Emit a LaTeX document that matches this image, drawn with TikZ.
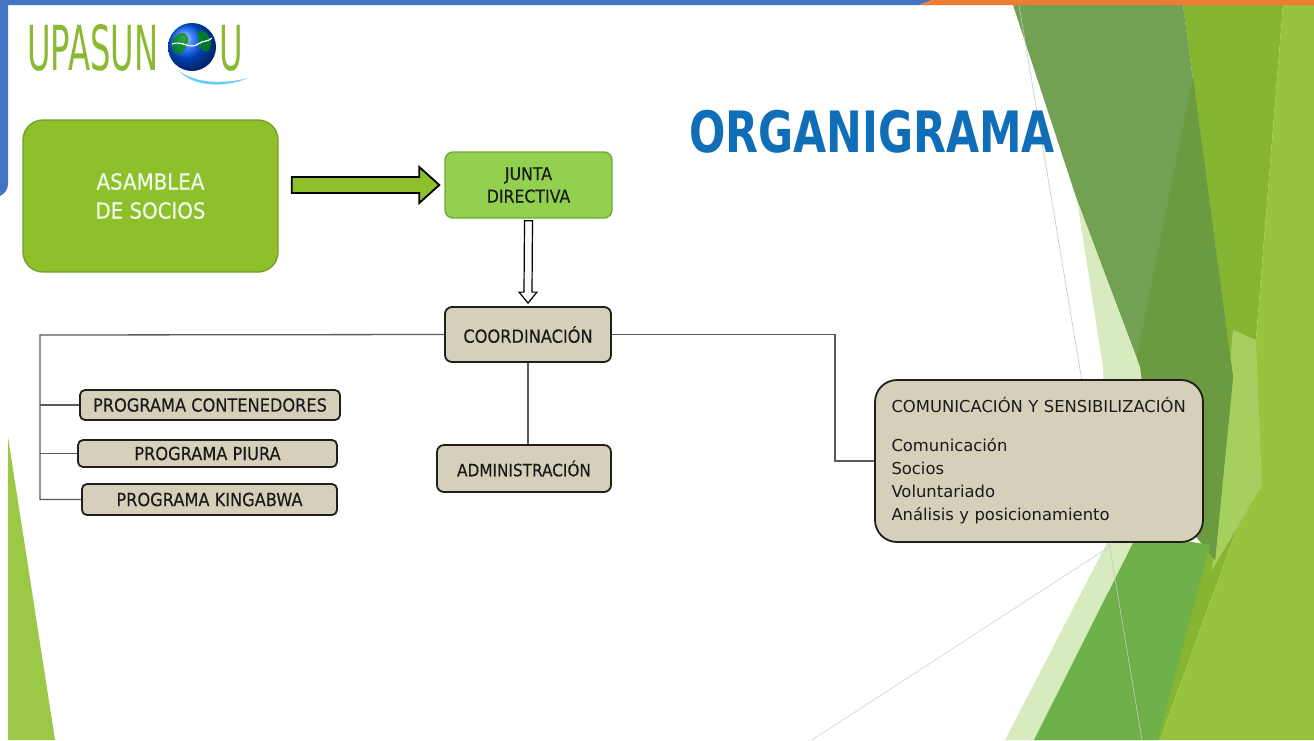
\documentclass[tikz,border=0pt]{standalone}
\usepackage{fontspec}
\setmainfont{DejaVu Sans}
\newfontfamily\tah[FakeStretch=0.9,FakeBold=0.3]{DejaVu Sans}
\newfontfamily\titlefont[FakeStretch=0.75]{DejaVu Sans}
\newfontfamily\logofont[FakeStretch=0.52]{DejaVu Sans}
\usetikzlibrary{calc}
\definecolor{barblue}{HTML}{4472C4}
\definecolor{barorange}{HTML}{ED7D31}
\definecolor{asamc}{HTML}{8DC02A}
\definecolor{asamb}{HTML}{73A128}
\definecolor{juntac}{HTML}{92D050}
\definecolor{juntab}{HTML}{74A83A}
\definecolor{tanc}{HTML}{D6D0BA}
\definecolor{txt}{HTML}{1A1A1A}
\definecolor{linec}{HTML}{5A5A5A}
\definecolor{titleblue}{HTML}{0F6EB7}
\definecolor{logogreen}{HTML}{8CB932}
\definecolor{fyg}{HTML}{86B532}
\definecolor{fbright}{HTML}{97C43E}
\definecolor{flight}{HTML}{A5CF5E}
\definecolor{fdark}{HTML}{72A154}
\definecolor{fdarker}{HTML}{6A9B40}
\definecolor{fpale}{HTML}{D8EBBF}
\definecolor{fmed}{HTML}{70B04A}
\definecolor{fleft}{HTML}{9BC847}
\begin{document}
\begin{tikzpicture}[x=1pt,y=-1pt,
  tanbox/.style={draw=black!88,line width=1.8pt,fill=tanc,rounded corners=7pt,inner sep=0pt,text=txt,align=center},
  conn/.style={draw=linec,line width=1.3pt}]
\useasboundingbox (0,0) rectangle (1314,740);
\fill[white] (0,0) rectangle (1314,740);

% ---- right facets ----
\fill[fyg] (1183,5) -- (1283,5) -- (1253,377) -- (1240,520) -- (1160,740) -- (1030,740) -- (1215,545) -- (1233,377) -- cycle;
\fill[fbright] (1283,5) -- (1314,5) -- (1314,740) -- (1160,740) -- (1240,520) -- (1253,377) -- cycle;
\fill[flight] (1233,330) -- (1256,340) -- (1262,485) -- (1212,570) -- cycle;
\fill[fdark] (1013,5) -- (1183,5) -- (1233,377) -- (1215,560) -- (1150,480) -- (1140,367) -- (1077,200) -- cycle;
\fill[fdarker] (1193,77) -- (1233,377) -- (1215,560) -- (1150,480) -- (1133,377) -- cycle;
\fill[fpale] (1077,200) -- (1140,367) -- (1155,475) -- (1110,540) -- (1103,367) -- cycle;
\fill[fpale] (1110,537) -- (1140,533) -- (1035,740) -- (1005,740) -- cycle;
\fill[fmed] (1138,533) -- (1210,545) -- (1158,740) -- (1034,740) -- cycle;
\draw[black!22,line width=0.6pt] (1019,5) -- (1142,740);
\draw[black!18,line width=0.6pt] (812,740) -- (1112,545);

% ---- left decorations ----
\fill[fleft] (8,437) -- (8,740) -- (55,740) -- cycle;
\fill[barblue] (0,0) -- (932,0) -- (919,5) -- (8,5) -- (8,184) .. controls (8,190) and (4,194) .. (0,196) -- cycle;
\fill[barorange] (932,0) -- (1314,0) -- (1314,5) -- (919,5) -- cycle;

% ---- logo ----
\node[anchor=base west,inner sep=0pt,text=logogreen,font=\logofont\fontsize{62}{62}\selectfont] (logo) at (27,70) {UPASUN};
\shade[ball color=blue!65!cyan] (192,47) circle (24);
\fill[green!55!black,opacity=.75] (176,36) .. controls (182,30) and (190,33) .. (188,42) .. controls (186,50) and (180,58) .. (174,52) .. controls (170,46) and (171,40) .. (176,36) -- cycle;
\fill[green!55!black,opacity=.75] (200,30) .. controls (208,32) and (213,40) .. (210,48) .. controls (206,56) and (200,50) .. (199,44) .. controls (198,38) and (196,33) .. (200,30) -- cycle;
\draw[white,line width=1.2pt] (172,44) .. controls (182,40) and (190,50) .. (198,44) .. controls (204,40) and (208,42) .. (212,38);
\fill[cyan!60!white] (178,70) .. controls (195,84) and (225,84) .. (248,78) .. controls (230,86) and (196,90) .. (178,70) -- cycle;
\node[anchor=base west,inner sep=0pt,text=logogreen,font=\logofont\fontsize{62}{62}\selectfont] (logou) at (219,70) {U};

% ---- title ----
\node[anchor=base west,inner sep=0pt,text=titleblue,font=\titlefont\bfseries\fontsize{57}{57}\selectfont] (title) at (689,152) {ORGANIGRAMA};

% ---- nodes ----
\node[draw=asamb,line width=1.4pt,fill=asamc,rounded corners=20pt,minimum width=255pt,minimum height=152pt,inner sep=0pt,align=center,text=white!94!green,font=\tah\fontsize{22}{29}\selectfont] (asam) at (150.5,196) {ASAMBLEA\\DE SOCIOS};
\node[draw=juntab,line width=1.4pt,fill=juntac,rounded corners=8pt,minimum width=167pt,minimum height=66pt,inner sep=0pt,align=center,text=txt,font=\tah\fontsize{17.5}{22.5}\selectfont] (junta) at (528.5,185) {JUNTA\\DIRECTIVA};
\node[tanbox,minimum width=166pt,minimum height=55pt,font=\tah\fontsize{18}{20}\selectfont] (coord) at (528,334.5) {COORDINACIÓN};
\node[tanbox,rounded corners=5pt,minimum width=260pt,minimum height=30pt,font=\tah\fontsize{18}{20}\selectfont] (pc) at (210,405) {PROGRAMA CONTENEDORES};
\node[tanbox,rounded corners=5pt,minimum width=259pt,minimum height=27pt,font=\tah\fontsize{18}{20}\selectfont] (pp) at (207.5,453.5) {PROGRAMA PIURA};
\node[tanbox,rounded corners=5pt,minimum width=255pt,minimum height=31pt,font=\tah\fontsize{18}{20}\selectfont] (pk) at (209.5,499.5) {PROGRAMA KINGABWA};
\node[tanbox,minimum width=174pt,minimum height=47pt,font=\tah\fontsize{17}{20}\selectfont] (adm) at (524,468.5) {ADMINISTRACIÓN};
\node[tanbox,rounded corners=22pt,minimum width=328pt,minimum height=162pt,inner xsep=16.5pt,text width=295pt,align=left,font=\fontsize{16.4}{23}\selectfont] (com) at (1039,461)
  {COMUNICACIÓN Y SENSIBILIZACIÓN\\[16pt]Comunicación\\Socios\\Voluntariado\\Análisis y posicionamiento};

% ---- connectors ----
\coordinate (trunk) at (40,335);
\draw[conn] (coord.west) -- (trunk) -- (trunk |- pk.west) -- (pk.west);
\draw[conn] (trunk |- pc.west) -- (pc.west);
\draw[conn] (trunk |- pp.west) -- (pp.west);
\draw[conn] (coord.south) -- (adm.north -| coord.south);
\draw[conn] (coord.east) -| ($(com.west)+(-39,0)$) -- (com.west);

% fat arrow asamblea -> junta
\draw[fill=asamc,line width=1.8pt,line join=miter]
  ($(asam.east |- junta.west)+(13,-8)$) -- ($(junta.west)+(-25,-8)$) -- ($(junta.west)+(-25,-18)$)
  -- ($(junta.west)+(-5,0)$) -- ($(junta.west)+(-25,18)$) -- ($(junta.west)+(-25,8)$)
  -- ($(asam.east |- junta.west)+(13,8)$) -- cycle;
% hollow arrow junta -> coordinacion
\draw[fill=white!92!tanc,line width=1.2pt,line join=miter]
  ($(junta.south)+(-4,2)$) -- ($(junta.south)+(4,2)$) -- ($(coord.north)+(4,-14)$) -- ($(coord.north)+(9,-14)$)
  -- ($(coord.north)+(0,-3)$) -- ($(coord.north)+(-9,-14)$) -- ($(coord.north)+(-4,-14)$) -- cycle;
\end{tikzpicture}
\end{document}
